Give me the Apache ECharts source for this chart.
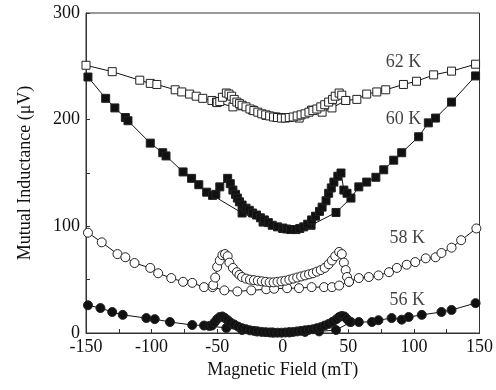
<!DOCTYPE html>
<html>
<head>
<meta charset="utf-8">
<script src="https://cdn.jsdelivr.net/npm/echarts@6/dist/echarts.min.js"></script>
<style>
  html, body { margin: 0; padding: 0; background: #fff; }
  #main { width: 496px; height: 390px; }
</style>
</head>
<body>
<div id="main"></div>
<script>
// field (mT), mutual inductance (uV)
// "sweep" = sparse branch over full range, "loop" = dense branch with the peaks near +-45 mT
const k62Sweep = [[-150,251],[-130,245],[-109,237],[-101,234],[-96,233],[-82,228],[-77,226],[-71,224],[-66,222],[-61,220],[-54,218],[-50.5,216.5],[-38,212],[-31,213],[-23,209],[-12.6,204],[-5,202.5],[0,202],[12.5,201.5],[22,209],[30,207],[37.5,211],[48,218],[56.5,219],[64,224],[71.7,226],[78.5,228],[92,233],[102,236],[115,242],[128.7,245.5],[147,252]];
const k62Loop = [[-50,216],[-48,217],[-46,221],[-43,225],[-41,224],[-39,222],[-37,219],[-35,216.5],[-33,215],[-31,213.5],[-28,212],[-25,210],[-22,208.5],[-19,207],[-16,205.5],[-13,204.5],[-10,203.5],[-7,202.5],[-4,202],[-1,201.5],[2,201.5],[5,202],[8,202.5],[11,203.5],[14,204.5],[17,205.5],[20,207],[23,208.5],[26,210],[29,212],[32,214],[35,216.5],[38,219],[40,222],[43,225],[45,223],[48,218]];

const k60Sweep = [[-148.5,240],[-135,220],[-128,211],[-120,202],[-118,199],[-101,178],[-91.5,169],[-89,166],[-76,151],[-69.5,145],[-64,139],[-58,132],[-53.5,129],[-31,112.5],[-15,104],[0,98],[10,97],[21.6,101],[40.6,113],[52,126.5],[58,137],[64,141.5],[71,146],[77,153],[84.6,162],[90.7,169],[103.6,184],[111,197],[116.5,201.5],[128.7,216.5],[147,241]];
const k60Loop = [[-51,130],[-48,137],[-42,145],[-40,140],[-38,134],[-36,130],[-34.6,126.5],[-33,123],[-31,120],[-28,117],[-25.5,115],[-23,112.5],[-20,110.6],[-17,108],[-14,106],[-11,103.5],[-8,101],[-4,99.5],[0,98.4],[3,97.5],[6,97],[10,97],[13,98],[16,99.5],[19,102],[22,106],[25,109.5],[28,114],[30,118],[33,124],[35,131],[37,136],[39,141.5],[42,147],[44.4,150],[46.6,134],[49,131]];

const k58Sweep = [[-148.5,94],[-138,85],[-126,74],[-120,71],[-113,65.6],[-101,61],[-95,56],[-85,51.5],[-76,48],[-69,47],[-60,43],[-53.5,43],[-44.5,40],[-34.6,39],[-24,40],[-12.6,41],[-6.6,41.5],[3.3,42],[12.4,42],[22,43],[31.5,43],[37.5,43],[43,44.5],[50.5,48],[58,51.5],[65.6,52.5],[73,54],[81,57],[87,61],[94.5,64],[101,66.5],[109,70],[116.5,71],[121,75],[128.7,80],[136,87],[147.6,98]];
const k58Loop = [[-53,45],[-51.5,52],[-50,62],[-48,68],[-46,73],[-44,74],[-42,72],[-40.7,66],[-38,61],[-35,57],[-33,54.5],[-31,52.5],[-28,51],[-25,50],[-22,49.5],[-19,49],[-16,48.5],[-13,48],[-10,47.5],[-7,47.5],[-4,48],[-1,48.5],[2,49],[5,50],[8,51],[11,52],[14,53],[17,54],[20,55],[23,56],[26,57.5],[29,59],[32,61],[35,64.5],[37.5,68],[40,72],[43,76],[45,74],[46.6,66],[48,59],[49,52.5],[50.5,48]];

const k56Sweep = [[-148.5,26],[-139,23.4],[-130,19.7],[-122,17],[-104,14],[-97.6,13],[-86,10.3],[-69,7.5],[-60,7],[-56,6.6],[-43,4.7],[-31,2.8],[-20,1.5],[-8,0.5],[5,0.5],[17,1],[27.7,1.5],[40.6,2.8],[52,10.3],[58,10.3],[68,10.3],[73,12],[83,14],[90.7,12.5],[96,15],[106,17],[121,19.7],[128.7,21.6],[147,28]];
const k56Loop = [[-54,7],[-52,10],[-50,13],[-48,15],[-46,15.5],[-44,14],[-42,12],[-40,10],[-37,8],[-34,6],[-31,4.5],[-28,3.5],[-25,2.5],[-22,2],[-19,1.5],[-16,1],[-13,0.8],[-10,0.5],[-7,0.3],[-4,0.3],[-1,0.3],[2,0.5],[5,0.8],[8,1],[11,1.5],[14,2],[17,2.5],[20,3],[23,3.5],[26,4.5],[29,5.5],[32,7],[35,8.5],[38,10.5],[41,13],[43,15],[45,16],[47,15.5],[49,13],[51,10.5]];

const tempLabels = ['62 K', '60 K', '58 K', '56 K'];
const labelAt = [[92, 254], [92, 200], [95, 89], [95, 31]];

const serif = 'Liberation Serif';
const chart = echarts.init(document.getElementById('main'));

function branch(data, symbol, filled) {
  return {
    type: 'line',
    data: data,
    symbol: symbol,
    symbolSize: symbol === 'circle' ? 9 : 8,
    showAllSymbol: true,
    lineStyle: { color: '#111', width: 1 },
    itemStyle: { color: filled ? '#111' : '#fff', borderColor: '#222', borderWidth: 1 },
    emphasis: { disabled: true },
    animation: false
  };
}

const series = [
  branch(k62Sweep, 'rect', false), branch(k62Loop, 'rect', false),
  branch(k60Sweep, 'rect', true), branch(k60Loop, 'rect', true),
  branch(k58Sweep, 'circle', false), branch(k58Loop, 'circle', false),
  branch(k56Sweep, 'circle', true), branch(k56Loop, 'circle', true)
];
// temperature tags
series.push({
  type: 'scatter',
  data: labelAt.map((p, i) => ({ value: p, name: tempLabels[i] })),
  symbolSize: 0,
  label: {
    show: true, position: 'inside', formatter: '{b}',
    fontFamily: serif, fontSize: 18, color: '#111'
  },
  silent: true,
  animation: false
});

const option = {
  backgroundColor: '#fff',
  grid: { left: 86, right: 15, top: 13, bottom: 57, show: true, borderColor: '#333', borderWidth: 1 },
  xAxis: {
    type: 'value', min: -150, max: 150, interval: 50,
    name: 'Magnetic Field (mT)', nameLocation: 'middle', nameGap: 27,
    nameTextStyle: { fontFamily: serif, fontSize: 18, color: '#111' },
    axisLine: { onZero: false, lineStyle: { color: '#333' } },
    axisTick: { inside: true, length: 4, lineStyle: { color: '#333' } },
    minorTick: { show: true, splitNumber: 2, length: 4, lineStyle: { color: '#333' } },
    axisLabel: { fontFamily: serif, fontSize: 18, color: '#111', margin: 5 },
    splitLine: { show: false }
  },
  yAxis: {
    type: 'value', min: 0, max: 300, interval: 100,
    name: 'Mutual Inductance (\u03bcV)', nameLocation: 'middle', nameGap: 52,
    nameTextStyle: { fontFamily: serif, fontSize: 18, color: '#111' },
    axisLine: { onZero: false, lineStyle: { color: '#333' } },
    axisTick: { inside: true, length: 4, lineStyle: { color: '#333' } },
    minorTick: { show: true, splitNumber: 2, length: 4, lineStyle: { color: '#333' } },
    axisLabel: { fontFamily: serif, fontSize: 18, color: '#111', margin: 6 },
    splitLine: { show: false }
  },
  series: series
};

chart.setOption(option);
</script>
</body>
</html>
